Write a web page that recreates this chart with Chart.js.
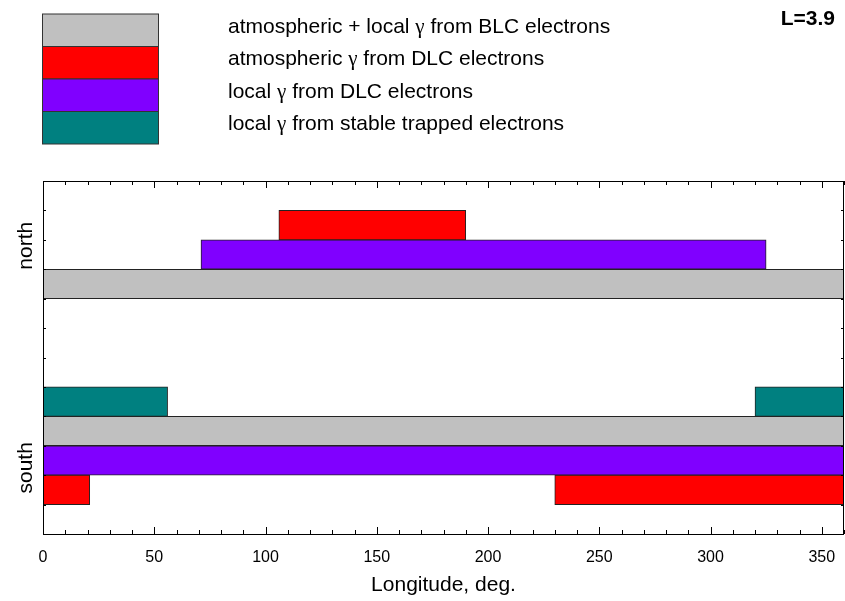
<!DOCTYPE html>
<html>
<head>
<meta charset="utf-8">
<title>L=3.9</title>
<script src="https://cdn.jsdelivr.net/npm/chart.js@4.4.1/dist/chart.umd.min.js"></script>
<style>
  html, body { margin: 0; padding: 0; background: #fff; }
  #wrap { position: relative; width: 845px; height: 601px; }
</style>
</head>
<body>
<div id="wrap"><canvas id="bandChart" width="845" height="601"></canvas></div>
<script>
// longitude spans [from, to] in degrees, with the row each span sits in
const blcRows = [8.5, 3.5];
const blcSpans = [[0, 360], [0, 360]];
const atmDlcRows = [10.5, 1.5, 1.5];
const atmDlcSpans = [[106, 190], [0, 21], [230, 360]];
const locDlcRows = [9.5, 2.5];
const locDlcSpans = [[71, 325], [0, 360]];
const trappedRows = [4.5, 4.5];
const trappedSpans = [[0, 56], [320, 360]];

const seriesLabels = [
    'atmospheric + local \u03b3 from BLC electrons',
    'atmospheric \u03b3 from DLC electrons',
    'local \u03b3 from DLC electrons',
    'local \u03b3 from stable trapped electrons'
];
const seriesColors = ['#c0c0c0', '#ff0000', '#8000ff', '#008080'];

const hemiLabels = ['north', 'south'];
const hemiRows = [9.8, 2.25];
const lonTicks = [0, 50, 100, 150, 200, 250, 300, 350];

const FONT = "'Liberation Sans', Arial, sans-serif";
const GREEK = "'Liberation Serif', 'DejaVu Serif', serif";

function toPoints(rows, spans) {
    return spans.map((s, i) => ({ x: s, y: rows[i] }));
}

// draws a label, switching to a serif face for the gamma
function drawMixed(ctx, text, x, y) {
    text.split(/(\u03b3)/).forEach(part => {
        if (!part) return;
        ctx.font = (part === '\u03b3' ? '21px ' + GREEK : '21px ' + FONT);
        ctx.fillText(part, x, y);
        x += ctx.measureText(part).width;
    });
}

// frame, inward tick marks, legend block and side labels
const decorations = {
    id: 'decorations',
    afterDatasetsDraw(chart) {
        const ctx = chart.ctx;
        const a = chart.chartArea;
        const xs = chart.scales.x;
        const ys = chart.scales.y;
        ctx.save();
        ctx.strokeStyle = '#000';
        ctx.lineWidth = 1;
        ctx.beginPath();
        for (let d = 0; d <= 360; d += 10) {
            const px = Math.round(xs.getPixelForValue(d)) + 0.5;
            const len = d % 50 === 0 ? 7 : 4;
            ctx.moveTo(px, a.top); ctx.lineTo(px, a.top + len);
            ctx.moveTo(px, a.bottom); ctx.lineTo(px, a.bottom - len);
        }
        for (let v = 0; v <= 12; v++) {
            const py = Math.round(ys.getPixelForValue(v)) + 0.5;
            ctx.moveTo(a.left, py); ctx.lineTo(a.left + 3, py);
            ctx.moveTo(a.right, py); ctx.lineTo(a.right - 3, py);
        }
        ctx.stroke();
        ctx.strokeRect(Math.round(a.left) + 0.5, Math.round(a.top) + 0.5,
            Math.round(a.right - a.left) - 1, Math.round(a.bottom - a.top));
        ctx.restore();
    },
    afterDraw(chart) {
        const ctx = chart.ctx;
        const ys = chart.scales.y;
        ctx.save();
        // legend: stacked swatches with text to the right
        chart.data.datasets.forEach((ds, i) => {
            const top = 14 + i * 32.5;
            ctx.fillStyle = ds.backgroundColor;
            ctx.fillRect(42, top, 116, 32.5);
            ctx.strokeStyle = '#333';
            ctx.lineWidth = 1;
            ctx.strokeRect(42.5, top, 116, 32.5);
            ctx.fillStyle = '#000';
            ctx.textBaseline = 'alphabetic';
            ctx.textAlign = 'left';
            drawMixed(ctx, ds.label, 228, top + 18.5);
        });
        ctx.font = 'bold 21px ' + FONT;
        ctx.textAlign = 'right';
        ctx.fillText('L=3.9', 835, 25);
        // hemisphere labels along the left axis
        ctx.font = '21px ' + FONT;
        ctx.textAlign = 'center';
        hemiLabels.forEach((t, i) => {
            ctx.save();
            ctx.translate(32, ys.getPixelForValue(hemiRows[i]));
            ctx.rotate(-Math.PI / 2);
            ctx.fillText(t, 0, 0);
            ctx.restore();
        });
        ctx.restore();
    }
};

const barStyle = {
    borderColor: '#222',
    borderWidth: 1,
    borderSkipped: false,
    barPercentage: 1,
    categoryPercentage: 1,
    grouped: false
};

const allRows = [blcRows, atmDlcRows, locDlcRows, trappedRows];
const allSpans = [blcSpans, atmDlcSpans, locDlcSpans, trappedSpans];

new Chart(document.getElementById('bandChart'), {
    type: 'bar',
    data: {
        datasets: seriesLabels.map((label, i) => Object.assign({
            label: label,
            data: toPoints(allRows[i], allSpans[i]),
            backgroundColor: seriesColors[i]
        }, barStyle))
    },
    options: {
        indexAxis: 'y',
        responsive: false,
        animation: false,
        devicePixelRatio: 1,
        layout: { padding: { top: 181, right: 1, left: 0, bottom: 0 } },
        plugins: { legend: { display: false }, tooltip: { enabled: false } },
        scales: {
            x: {
                type: 'linear',
                min: 0,
                max: 360,
                offset: false,
                afterBuildTicks: scale => { scale.ticks = lonTicks.map(v => ({ value: v })); },
                ticks: { font: { family: FONT, size: 16 }, color: '#000', padding: 6, maxRotation: 0 },
                grid: { display: false },
                border: { display: false },
                title: {
                    display: true,
                    text: 'Longitude, deg.',
                    color: '#000',
                    font: { family: FONT, size: 21 },
                    padding: { top: 0, bottom: 3 }
                },
                afterFit: scale => {
                    scale.height = 67;
                    scale.paddingLeft = 0;
                    scale.paddingRight = 0;
                }
            },
            y: {
                type: 'linear',
                min: 0,
                max: 12,
                offset: false,
                ticks: { stepSize: 1, display: false },
                grid: { display: false },
                border: { display: false },
                afterFit: scale => { scale.width = 43; }
            }
        }
    },
    plugins: [decorations]
});
</script>
</body>
</html>
